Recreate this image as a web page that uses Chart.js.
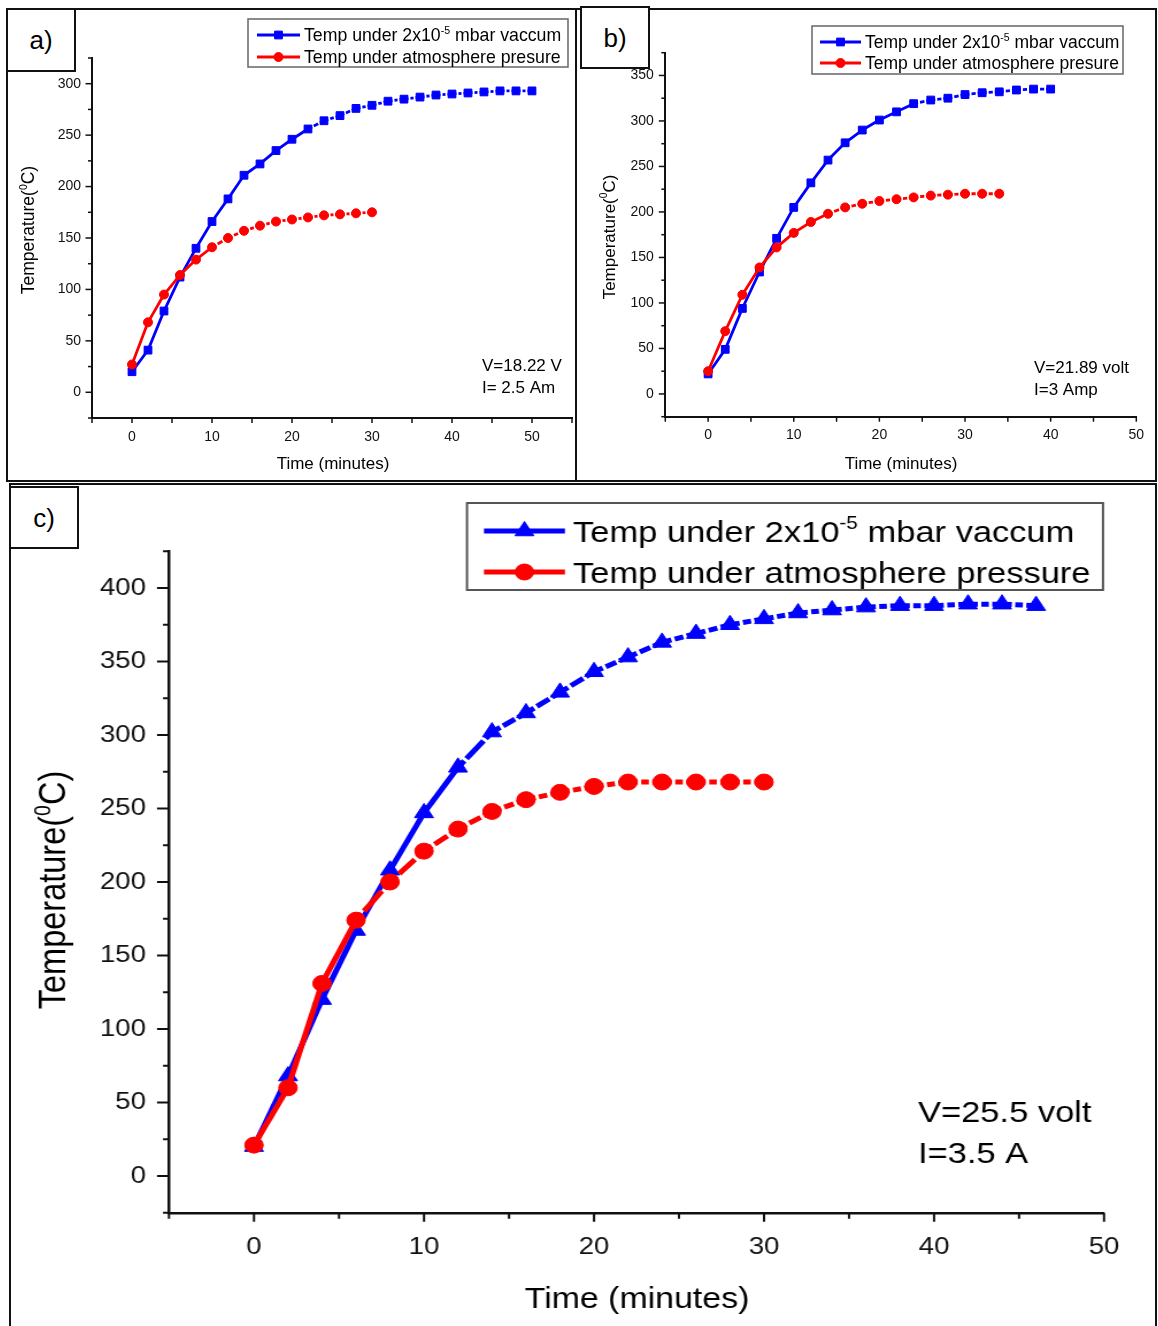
<!DOCTYPE html>
<html lang="en">
<head>
<meta charset="utf-8">
<title>Heating curves under vacuum and atmospheric pressure</title>
<script src="https://cdn.jsdelivr.net/npm/chart.js@4.4.1/dist/chart.umd.min.js"></script>
<style>
  html, body { margin: 0; padding: 0; background: #fff; }
  body { position: relative; width: 1158px; height: 1326px; overflow: hidden; font-family: "Liberation Sans", Arial, sans-serif; }
  canvas { position: absolute; }
  .frame { position: absolute; box-sizing: border-box; border: 2px solid #111; pointer-events: none; }
  .tag { position: absolute; box-sizing: border-box; border: 2px solid #111; background: #fff; font-size: 26px; line-height: 1; display: flex; align-items: center; justify-content: center; color: #000; }
</style>
</head>
<body>
<canvas id="chartA" width="578" height="484" style="left:0;top:0;width:578px;height:484px"></canvas>
<canvas id="chartB" width="580" height="484" style="left:578px;top:0;width:580px;height:484px"></canvas>
<canvas id="chartC" width="997" height="842" style="left:10px;top:484px;width:997px;height:842px;transform:scaleX(1.14945);transform-origin:0 0"></canvas>

<div class="frame" style="left:6px;top:8px;width:571px;height:474px"></div>
<div class="frame" style="left:575px;top:8px;width:582px;height:474px"></div>
<div class="frame" style="left:9px;top:483px;width:1148px;height:860px"></div>
<div class="tag" style="left:6px;top:8px;width:70px;height:64px">a)</div>
<div class="tag" style="left:580px;top:6px;width:70px;height:63px">b)</div>
<div class="tag" style="left:9px;top:486px;width:70px;height:63px">c)</div>

<script>
// ---------- (a) V = 18.22 V, I = 2.5 A ----------
const timeVacA = [0, 2, 4, 6, 8, 10, 12, 14, 16, 18, 20, 22, 24, 26, 28, 30, 32, 34, 36, 38, 40, 42, 44, 46, 48, 50];
const tempVacA = [20, 41, 79, 112, 140, 166, 188, 211, 222, 235, 246, 256, 264, 269, 276, 279, 283, 285, 287, 289, 290, 291, 292, 293, 293, 293];
const timeAtmA = [0, 2, 4, 6, 8, 10, 12, 14, 16, 18, 20, 22, 24, 26, 28, 30];
const tempAtmA = [27, 68, 95, 114, 129, 141, 150, 157, 162, 166, 168, 170, 172, 173, 174, 175];

// ---------- (b) V = 21.89 volt, I = 3 Amp ----------
const timeVacB = [0, 2, 4, 6, 8, 10, 12, 14, 16, 18, 20, 22, 24, 26, 28, 30, 32, 34, 36, 38, 40];
const tempVacB = [22, 49, 94, 134, 171, 205, 232, 257, 276, 290, 301, 310, 319, 323, 325, 329, 331, 332, 334, 335, 335];
const timeAtmB = [0, 2, 4, 6, 8, 10, 12, 14, 16, 18, 20, 22, 24, 26, 28, 30, 32, 34];
const tempAtmB = [25, 69, 109, 139, 161, 177, 189, 198, 205, 209, 212, 214, 216, 218, 219, 220, 220, 220];

// ---------- (c) V = 25.5 volt, I = 3.5 A ----------
const timeVacC = [0, 2, 4, 6, 8, 10, 12, 14, 16, 18, 20, 22, 24, 26, 28, 30, 32, 34, 36, 38, 40, 42, 44, 46];
const tempVacC = [20, 68, 120, 167, 208, 247, 278, 302, 315, 329, 343, 353, 363, 369, 375, 379, 383, 385, 387, 388, 388, 389, 389, 388];
const timeAtmC = [0, 2, 4, 6, 8, 10, 12, 14, 16, 18, 20, 22, 24, 26, 28, 30];
const tempAtmC = [21, 60, 131, 174, 200, 221, 236, 248, 256, 261, 265, 268, 268, 268, 268, 268];

// ---------- tick labels ----------
const xLabelsAB = [0, 10, 20, 30, 40, 50];
const xLabelsC  = [0, 10, 20, 30, 40, 50];
const yLabelsA  = [0, 50, 100, 150, 200, 250, 300];
const yLabelsB  = [0, 50, 100, 150, 200, 250, 300, 350];
const yLabelsC  = [0, 50, 100, 150, 200, 250, 300, 350, 400];

// ---------- text ----------
const vacuumName = [{ t: 'Temp under 2x10' }, { t: '-5', sup: true }, { t: ' mbar vaccum' }];
const atmNameAB  = [{ t: 'Temp under atmosphere presure' }];
const atmNameC   = [{ t: 'Temp under atmosphere pressure' }];
const yTitle     = [{ t: 'Temperature(' }, { t: '0', sup: true }, { t: 'C)' }];
const xTitle     = [{ t: 'Time (minutes)' }];
const notesA = ['V=18.22 V', 'I= 2.5 Am'];
const notesB = ['V=21.89 volt', 'I=3 Amp'];
const notesC = ['V=25.5 volt', 'I=3.5 A'];

const BLUE = '#0000ff';
const RED = '#ff0000';
const INK = '#111111';
const FONT = '"Liberation Sans", Arial, sans-serif';

const toXY = (xs, ys) => xs.map((x, i) => ({ x: x, y: ys[i] }));

// Short connecting segments stop a little before each marker, so the
// flat end of a curve reads as "marker - dash - marker".
function gapSegments(h, g, maxLen) {
  const len = c => Math.hypot(c.p1.x - c.p0.x, c.p1.y - c.p0.y);
  return {
    borderDash: c => {
      const L = len(c);
      if (L > maxLen) return undefined;
      return [2 * h, g, Math.max(L - 2 * h - 2 * g, 0.5), g];
    },
    borderDashOffset: c => (len(c) > maxLen ? undefined : h)
  };
}

function drawRich(ctx, parts, x, y, size, align) {
  const supSize = size * 0.6;
  const widths = [];
  let total = 0;
  parts.forEach(p => {
    ctx.font = `${p.sup ? supSize : size}px ${FONT}`;
    const w = ctx.measureText(p.t).width;
    widths.push(w);
    total += w;
  });
  let cx = align === 'center' ? x - total / 2 : x;
  const base = y + size * 0.36;
  ctx.textAlign = 'left';
  ctx.textBaseline = 'alphabetic';
  parts.forEach((p, i) => {
    ctx.font = `${p.sup ? supSize : size}px ${FONT}`;
    ctx.fillText(p.t, cx, p.sup ? base - size * 0.42 : base);
    cx += widths[i];
  });
}

function marker(ctx, style, r, bw, color, x, y) {
  ctx.fillStyle = color;
  ctx.strokeStyle = color;
  ctx.lineWidth = bw;
  Chart.helpers.drawPoint(ctx, { pointStyle: style, radius: r, borderWidth: bw, rotation: 0 }, x, y);
}

// Tick marks, axis titles, legend box and the operating-point note
function decorations(p) {
  return {
    id: 'decorations',
    afterDraw(chart) {
      const ctx = chart.ctx;
      const xs = chart.scales.x, ys = chart.scales.y, a = chart.chartArea;
      ctx.save();
      ctx.strokeStyle = INK;
      ctx.lineWidth = p.tickW;
      ys.ticks.forEach(t => {
        const y = ys.getPixelForValue(t.value);
        const L = t.value % p.yMajorStep === 0 ? p.yMajorLen : p.yMinorLen;
        ctx.beginPath(); ctx.moveTo(a.left, y); ctx.lineTo(a.left - L, y); ctx.stroke();
      });
      xs.ticks.forEach(t => {
        const x = xs.getPixelForValue(t.value);
        const L = t.value % p.xMajorStep === 0 ? p.xMajorLen : p.xMinorLen;
        ctx.beginPath(); ctx.moveTo(x, a.bottom); ctx.lineTo(x, a.bottom + L); ctx.stroke();
      });

      ctx.fillStyle = '#000';
      // axis titles
      drawRich(ctx, xTitle, p.xTitle.x, p.xTitle.y, p.xTitle.size, 'center');
      ctx.save();
      ctx.translate(p.yTitle.x, p.yTitle.y);
      ctx.rotate(-Math.PI / 2);
      drawRich(ctx, yTitle, 0, 0, p.yTitle.size, 'center');
      ctx.restore();

      // legend
      const lg = p.legend;
      ctx.strokeStyle = lg.border;
      ctx.lineWidth = lg.bw;
      ctx.strokeRect(lg.x0, lg.y0, lg.x1 - lg.x0, lg.y1 - lg.y0);
      const rows = [
        { y: lg.rows[0], color: BLUE, style: p.vacStyle, r: p.vacR, text: vacuumName },
        { y: lg.rows[1], color: RED, style: 'circle', r: p.atmR, text: p.atmName }
      ];
      rows.forEach(row => {
        ctx.strokeStyle = row.color;
        ctx.lineWidth = p.lw;
        ctx.beginPath(); ctx.moveTo(lg.s0, row.y); ctx.lineTo(lg.s1, row.y); ctx.stroke();
        marker(ctx, row.style, row.r, 1, row.color, (lg.s0 + lg.s1) / 2, row.y);
        ctx.fillStyle = '#000';
        drawRich(ctx, row.text, lg.tx, row.y, lg.size, 'left');
      });

      // operating point
      ctx.fillStyle = '#000';
      p.notes.forEach((s, i) => drawRich(ctx, [{ t: s }], p.note.x, p.note.y[i], p.note.size, 'left'));
      ctx.restore();
    }
  };
}

function makePanel(id, p) {
  return new Chart(document.getElementById(id), {
    type: 'line',
    data: {
      datasets: [
        {
          data: toXY(p.tVac, p.vac), order: 1,
          borderColor: BLUE, backgroundColor: BLUE, borderWidth: p.lw,
          pointStyle: p.vacStyle, pointRadius: p.vacR, pointBorderWidth: 1,
          pointBackgroundColor: BLUE, pointBorderColor: BLUE,
          borderJoinStyle: 'round', tension: 0, segment: p.seg
        },
        {
          data: toXY(p.tAtm, p.atm), order: 0,
          borderColor: RED, backgroundColor: RED, borderWidth: p.lw,
          pointStyle: 'circle', pointRadius: p.atmR, pointBorderWidth: 1,
          pointBackgroundColor: RED, pointBorderColor: RED,
          borderJoinStyle: 'round', tension: 0, segment: p.seg
        }
      ]
    },
    options: {
      responsive: false,
      animation: false,
      events: [],
      layout: { autoPadding: false, padding: p.pad },
      plugins: { legend: { display: false }, tooltip: { enabled: false } },
      scales: {
        x: {
          type: 'linear', min: p.xMin, max: p.xMax,
          afterFit: s => { s.height = p.xH; s.paddingLeft = 0; s.paddingRight = 0; },
          grid: { display: false, drawTicks: false },
          border: { display: true, color: INK, width: p.axisW },
          ticks: {
            stepSize: 5, autoSkip: false, maxRotation: 0, minRotation: 0,
            padding: p.xTickPad, color: INK, font: { family: FONT, size: p.tickSize },
            callback: v => (p.xLabels.includes(v) ? String(v) : '')
          }
        },
        y: {
          type: 'linear', min: p.yMin, max: p.yMax,
          afterFit: s => { s.width = p.yW; s.paddingTop = 0; s.paddingBottom = 0; },
          grid: { display: false, drawTicks: false },
          border: { display: true, color: INK, width: p.axisW },
          ticks: {
            stepSize: 25, autoSkip: false,
            padding: p.yTickPad, color: INK, font: { family: FONT, size: p.tickSize },
            callback: v => (p.yLabels.includes(v) ? String(v) : '')
          }
        }
      }
    },
    plugins: [decorations(p)]
  });
}

const panelA = {
  tVac: timeVacA, vac: tempVacA, tAtm: timeAtmA, atm: tempAtmA,
  xMin: -5, xMax: 55, yMin: -25, yMax: 325, xLabels: xLabelsAB, yLabels: yLabelsA,
  pad: { left: 0, top: 58, right: 6, bottom: 0 }, yW: 92, xH: 66,
  tickSize: 14, yTickPad: 11, xTickPad: 10.5, axisW: 2,
  tickW: 1.5, yMajorStep: 50, yMajorLen: 6.5, yMinorLen: 4, xMajorStep: 10, xMajorLen: 5, xMinorLen: 5,
  lw: 2.8, vacStyle: 'rect', vacR: 5.5, atmR: 4.5, seg: gapSegments(4.5, 2, 18.5),
  atmName: atmNameAB, notes: notesA,
  xTitle: { x: 333, y: 463, size: 17 }, yTitle: { x: 28, y: 230, size: 17.5 },
  legend: { x0: 248, y0: 19, x1: 568, y1: 67, rows: [35, 57], s0: 257, s1: 300, tx: 304, size: 17.7, border: '#666', bw: 1.5 },
  note: { x: 482, y: [365, 387], size: 17 }
};

const panelB = {
  tVac: timeVacB, vac: tempVacB, tAtm: timeAtmB, atm: tempAtmB,
  xMin: -5, xMax: 50, yMin: -25, yMax: 375, xLabels: xLabelsAB, yLabels: yLabelsB,
  pad: { left: 0, top: 52.7, right: 21.7, bottom: 0 }, yW: 87.3, xH: 67.3,
  tickSize: 14, yTickPad: 11.5, xTickPad: 10, axisW: 2,
  tickW: 1.5, yMajorStep: 50, yMajorLen: 6.5, yMinorLen: 4, xMajorStep: 10, xMajorLen: 5, xMinorLen: 5,
  lw: 2.8, vacStyle: 'rect', vacR: 5.5, atmR: 4.5, seg: gapSegments(4.5, 2, 18.5),
  atmName: atmNameAB, notes: notesB,
  xTitle: { x: 323, y: 463, size: 17 }, yTitle: { x: 30.5, y: 237, size: 17 },
  legend: { x0: 234, y0: 26, x1: 545, y1: 74, rows: [42, 63], s0: 242, s1: 283, tx: 287, size: 17.5, border: '#666', bw: 1.5 },
  note: { x: 456, y: [367, 388.5], size: 17 }
};

const panelC = {
  tVac: timeVacC, vac: tempVacC, tAtm: timeAtmC, atm: tempAtmC,
  xMin: -5, xMax: 50, yMin: -25, yMax: 425, xLabels: xLabelsC, yLabels: yLabelsC,
  pad: { left: 0, top: 67.25, right: 45.2, bottom: 0 }, yW: 138.3, xH: 113.25,
  tickSize: 24, yTickPad: 20, xTickPad: 19.8, axisW: 2.5,
  tickW: 2, yMajorStep: 50, yMajorLen: 10.4, yMinorLen: 5.2, xMajorStep: 10, xMajorLen: 9, xMinorLen: 6,
  lw: 5, vacStyle: 'triangle', vacR: 9.5, atmR: 8, seg: gapSegments(8.5, 3, 50),
  atmName: atmNameC, notes: notesC,
  xTitle: { x: 545.5, y: 813, size: 29.5 }, yTitle: { x: 36.5, y: 406, size: 32.5 },
  legend: { x0: 397.6, y0: 19, x1: 950.9, y1: 106, rows: [47, 88], s0: 412.3, s1: 482.8, tx: 489.8, size: 30, border: '#555', bw: 2 },
  note: { x: 789.9, y: [627, 668], size: 30 }
};

makePanel('chartA', panelA);
makePanel('chartB', panelB);
makePanel('chartC', panelC);
</script>
</body>
</html>
